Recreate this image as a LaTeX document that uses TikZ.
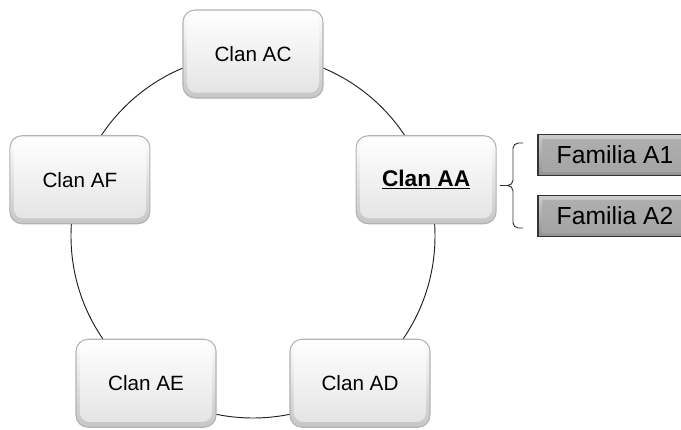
\documentclass[tikz,border=0pt]{standalone}
\usepackage{fontspec}
\setmainfont{Liberation Sans}

\tikzset{
  clan/.style={draw=gray!60, line width=0.8pt, rounded corners=9pt,
    top color=white, bottom color=gray!45,
    minimum width=105pt, minimum height=66pt, inner sep=0pt,
    font=\fontsize{15.5}{18}\selectfont,
    path picture={\shade[top color=white, bottom color=gray!22, rounded corners=7pt]
      ([shift={(3pt,-2pt)}]path picture bounding box.north west)
      rectangle ([shift={(-3pt,4pt)}]path picture bounding box.south east);}},
  familia/.style={draw=black!80, line width=0.8pt,
    top color=gray!40, bottom color=gray!100!black!85,
    minimum width=115.5pt, minimum height=31pt, inner sep=0pt,
    font=\fontsize{18.5}{21}\selectfont,
    path picture={\shade[top color=gray!62, bottom color=gray!72]
      ([shift={(3.5pt,-3.5pt)}]path picture bounding box.north west)
      rectangle ([shift={(-3.5pt,3.5pt)}]path picture bounding box.south east);}}
}

\begin{document}
\begin{tikzpicture}[x=0.75pt, y=0.75pt]
    \useasboundingbox (-253,-193) rectangle (428,236);
    % anillo de clanes
    \draw[gray!25!black, line width=0.7pt] (0,0) circle (182);
    \foreach \ang/\nm/\txt in {90/ac/Clan AC, 162/af/Clan AF, 234/ae/Clan AE, 306/ad/Clan AD} {
        \node[clan] (\nm) at (\ang:182) {\txt};
    }
    \node[clan, font=\fontsize{17}{20}\selectfont\bfseries] (aa) at (18:182) {\underline{Clan AA}};

    % familias del clan AA
    \node[familia] (a1) at (362,81) {Familia A1};
    \node[familia] (a2) at (362,20) {Familia A2};

    % llave
    \coordinate (brtop) at (270,93);
    \coordinate (brbot) at (270,8);
    \coordinate (brtip) at (247,50.5);
    \draw[black!80, line width=0.7pt, rounded corners=4pt]
        (brtop) -- (260,93) -- (260,50.5) -- (brtip)
        (brbot) -- (260,8) -- (260,50.5) -- (brtip);
\end{tikzpicture}
\end{document}
